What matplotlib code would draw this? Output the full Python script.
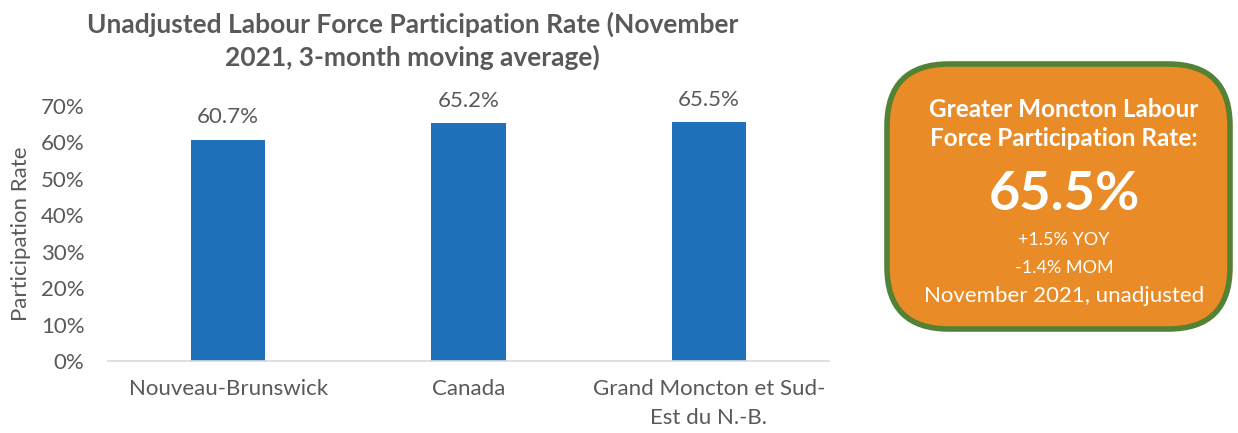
import matplotlib
matplotlib.use("Agg")
import matplotlib.pyplot as plt
from matplotlib.patches import FancyBboxPatch

categories = ["Nouveau-Brunswick", "Canada", "Grand Moncton et Sud-\nEst du N.-B."]
values = [60.7, 65.2, 65.5]
yticks = [0, 10, 20, 30, 40, 50, 60, 70]

plt.rcParams['font.family'] = ['Lato', 'DejaVu Sans']
gray = '#595959'

fig = plt.figure(figsize=(12.38, 4.33), dpi=100)
ax = fig.add_axes([0.0872, 0.1663, 0.5824, 0.589])
x = range(len(categories))
ax.bar(x, values, width=0.31, color='#1F72BA')
for xi, v in zip(x, values):
    ax.text(xi, v + 3.5, f"{v:.1f}%", ha='center', va='bottom', fontsize=16, color=gray)
ax.set_xlim(-0.5, 2.5)
ax.set_ylim(0, 70)
ax.set_yticks(yticks)
ax.set_yticklabels([f"{t}%" for t in yticks], fontsize=16, color=gray)
ax.set_xticks(list(x))
ax.set_xticklabels(categories, fontsize=16, color=gray, linespacing=1.55)
ax.tick_params(axis='x', length=0, pad=13)
ax.tick_params(axis='y', length=0, pad=17)
for s in ['top', 'right', 'left']:
    ax.spines[s].set_visible(False)
ax.spines['bottom'].set_color('#D9D9D9')
ax.spines['bottom'].set_linewidth(1.2)
ax.set_ylabel("Participation Rate", fontsize=16, color=gray, labelpad=7)
fig.text(0.333, 0.905, "Unadjusted Labour Force Participation Rate (November\n2021, 3-month moving average)",
         ha='center', va='center', fontsize=19, fontweight='bold', color=gray, linespacing=1.35)

box = FancyBboxPatch((887/1238, 1-329/433), (1230-887)/1238, (329-64)/433,
                     boxstyle="round,pad=0,rounding_size=0.05", transform=fig.transFigure,
                     facecolor='#E98B26', edgecolor='#548235', linewidth=4, mutation_aspect=1238/433)
fig.patches.append(box)
cx = 1064/1238
fig.text(cx, 1-124/433, "Greater Moncton Labour\nForce Participation Rate:", ha='center', va='center',
         fontsize=17.5, fontweight='bold', color='white', linespacing=1.3)
fig.text(cx, 1-195/433, "65.5%", ha='center', va='center', fontsize=39, fontweight='bold', color='white')
fig.text(cx, 1-240/433, "+1.5% YOY", ha='center', va='center', fontsize=13, color='white')
fig.text(cx, 1-268/433, "-1.4% MOM", ha='center', va='center', fontsize=13, color='white')
fig.text(cx, 1-296/433, "November 2021, unadjusted", ha='center', va='center', fontsize=16, color='white')

fig.savefig("out.png", dpi=100)
